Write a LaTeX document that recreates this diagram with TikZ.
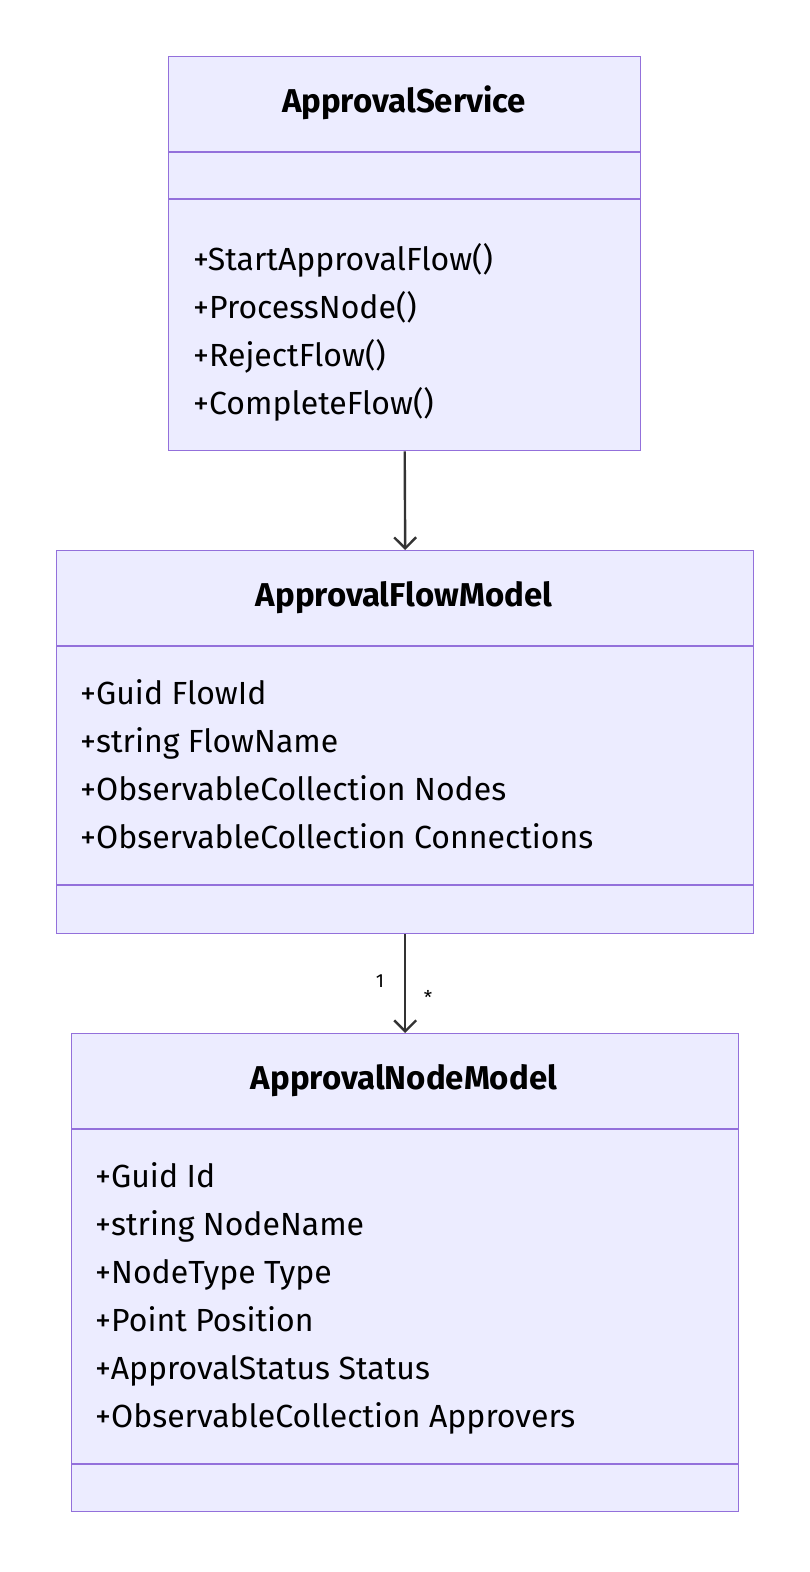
\documentclass[tikz,border=0pt]{standalone}
\usepackage{fontspec}
\setmainfont{Fira Sans}
\usetikzlibrary{arrows.meta}
\definecolor{boxfill}{HTML}{ECECFF}
\definecolor{boxline}{HTML}{9370DB}
\definecolor{arr}{HTML}{333333}
\begin{document}
\begin{tikzpicture}[x=1pt,y=-1pt,
  box/.style={draw=boxline,fill=boxfill,line width=1.4pt},
  div/.style={draw=boxline,line width=1.4pt},
  title/.style={font=\fontsize{33}{38}\selectfont\bfseries,text=black},
  item/.style={anchor=base west,font=\fontsize{32}{38}\selectfont,text=black,inner sep=0pt},
  lbl/.style={font=\fontsize{19}{22}\selectfont,text=black},
  conn/.style={draw=arr,line width=2.4pt,-{Straight Barb[length=11pt,width=22pt,line width=2.4pt]}}]
\useasboundingbox (0,0) rectangle (810,1572);
% box 1
\node[box,minimum width=472pt,minimum height=394pt,anchor=north west,inner sep=0pt] (s) at (168,56) {};
\draw[div] (168,152) -- (640,152) (168,199) -- (640,199);
\node[title] (st) at (404,103) {ApprovalService};
\node[item] (s1) at (193,270) {+StartApprovalFlow()};
\node[item] (s2) at (193,318) {+ProcessNode()};
\node[item] (s3) at (193,366) {+RejectFlow()};
\node[item] (s4) at (193,414) {+CompleteFlow()};
% box 2
\node[box,minimum width=697pt,minimum height=383pt,anchor=north west,inner sep=0pt] (f) at (56,550) {};
\draw[div] (56,646) -- (753,646) (56,885) -- (753,885);
\node[title] (ft) at (404,598) {ApprovalFlowModel};
\node[item] (f1) at (80,704) {+Guid FlowId};
\node[item] (f2) at (80,752) {+string FlowName};
\node[item] (f3) at (80,800) {+ObservableCollection Nodes};
\node[item] (f4) at (80,848) {+ObservableCollection Connections};
% box 3
\node[box,minimum width=667pt,minimum height=478pt,anchor=north west,inner sep=0pt] (n) at (71,1033) {};
\draw[div] (71,1129) -- (738,1129) (71,1464) -- (738,1464);
\node[title] (nt) at (404,1081) {ApprovalNodeModel};
\node[item] (n1) at (95,1187) {+Guid Id};
\node[item] (n2) at (95,1235) {+string NodeName};
\node[item] (n3) at (95,1283) {+NodeType Type};
\node[item] (n4) at (95,1331) {+Point Position};
\node[item] (n5) at (95,1379) {+ApprovalStatus Status};
\node[item] (n6) at (95,1427) {+ObservableCollection Approvers};
% connectors
\draw[conn] (s.south) -- (f.north);
\draw[conn] (f.south) -- (n.north);
\node[lbl] (l1) at (380,981) {1};
\node[lbl] (l2) at (428,997) {*};
\end{tikzpicture}
\end{document}
